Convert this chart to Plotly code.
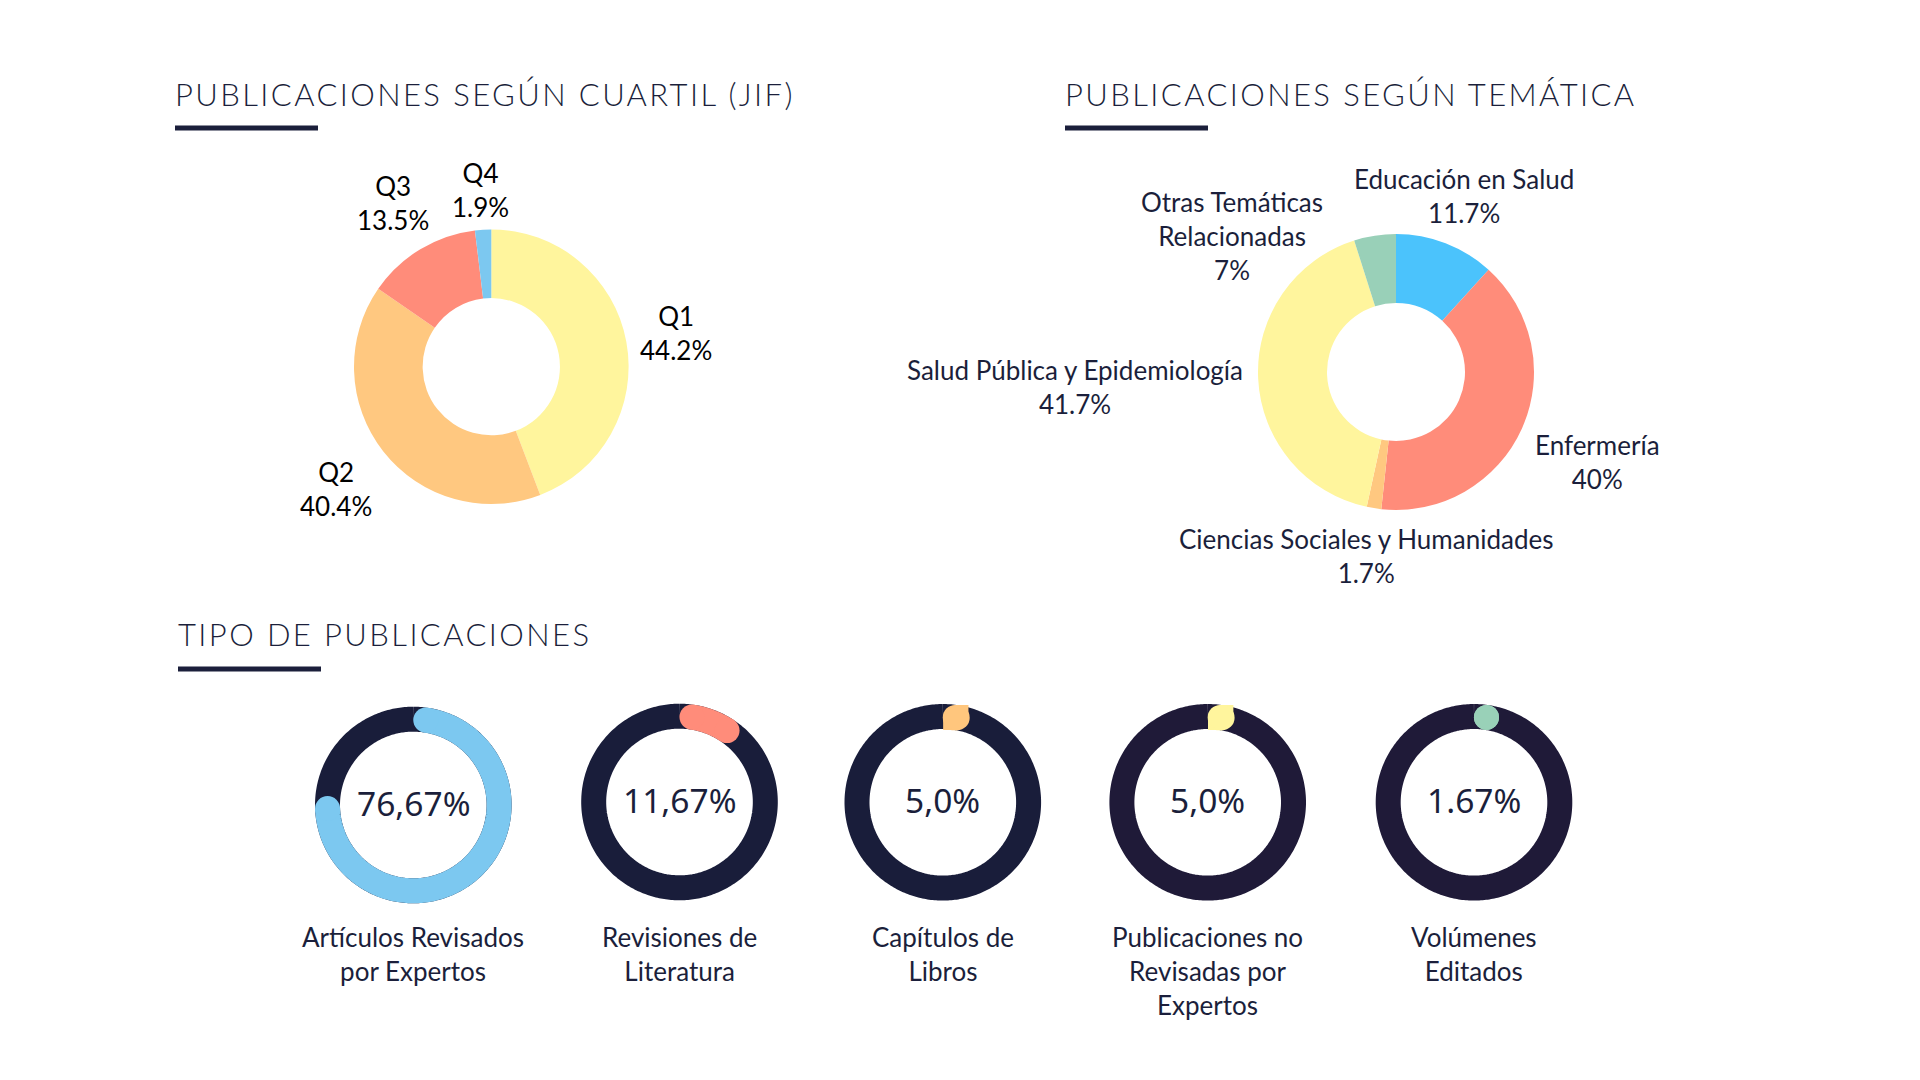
import math
import numpy as np
import plotly.graph_objects as go

W, H = 1920, 1080

# ---------------- DATA ----------------
cuartil_labels = ["Q1", "Q2", "Q3", "Q4"]
cuartil_values = [44.2, 40.4, 13.5, 1.9]
cuartil_colors = ["#FFF59D", "#FFC880", "#FF8C7A", "#7CC8F0"]

tema_labels = ["Educación en Salud", "Enfermería", "Ciencias Sociales y Humanidades",
               "Salud Pública y Epidemiología", "Otras Temáticas<br>Relacionadas"]
tema_values = [11.7, 40.0, 1.7, 41.7, 4.9]
tema_text = ["11.7%", "40%", "1.7%", "41.7%", "7%"]
tema_colors = ["#4BC3FC", "#FF8C7A", "#FFC880", "#FFF59D", "#99D0B8"]

tipo_labels = ["Artículos Revisados<br>por Expertos", "Revisiones de<br>Literatura",
               "Capítulos de<br>Libros", "Publicaciones no<br>Revisadas por<br>Expertos",
               "Volúmenes<br>Editados"]
tipo_values = [76.67, 11.67, 5.0, 5.0, 1.67]
tipo_text = ["76,67%", "11,67%", "5,0%", "5,0%", "1.67%"]
tipo_colors = ["#7CC8F0", "#FF8C7A", "#FFC67D", "#FFF59D", "#99D1B8"]
tipo_ring = ["#191D3A", "#191D3A", "#191D3A", "#1F1A38", "#1F1A38"]

titles = ["PUBLICACIONES SEGÚN CUARTIL (JIF)", "PUBLICACIONES SEGÚN TEMÁTICA",
          "TIPO DE PUBLICACIONES"]

# ---------------- LAYOUT ----------------
NAVY = "#1B1F3B"
LABEL_FONT = "Lato"
LABEL_SIZE = 26
LABEL_GAP = 14
PIE1 = (491.3, 366.7, 137.3)   # centre x, centre y, radius (px)
PIE2 = (1396.0, 372.0, 138.0)
# label nudges (px) for overlap avoidance of very small slices
pie1_label_nudge = [(0, 0), (0, 0), (0, 0), (0, 8)]
pie2_label_nudge = [(0, 0), (0, 0), (0, 0), (0, 0), (-133, 65)]


def px_x(x):
    return x / W


def px_y(y):
    return 1 - y / H


def dom(cx, cy, r):
    return dict(x=[(cx - r) / W, (cx + r) / W], y=[1 - (cy + r) / H, 1 - (cy - r) / H])


def char_w(c):
    if c.isdigit():
        return 0.58
    if c == "%":
        return 0.80
    if c in ".,":
        return 0.24
    if c == " ":
        return 0.25
    if c in "ilíjI":
        return 0.24
    if c in "frt":
        return 0.35
    if c == "m":
        return 0.84
    if c.isupper():
        return 0.64
    return 0.52


def text_box(text, size):
    lines = text.split("<br>")
    w = max(sum(char_w(c) for c in ln) for ln in lines) * size
    h = len(lines) * 1.3 * size
    return w, h


def pie_label_annotations(texts, values, geom, color, nudges):
    cx, cy, R = geom
    total = float(sum(values))
    cum = 0.0
    out = []
    for i, (t, v) in enumerate(zip(texts, values)):
        mid = (cum + v / 2) / total * 360.0
        cum += v
        a = math.radians(mid)
        dx, dy = math.sin(a), -math.cos(a)
        w, h = text_box(t, LABEL_SIZE)
        tx = (w / 2) / abs(dx) if abs(dx) > 1e-6 else float("inf")
        ty = (h / 2) / abs(dy) if abs(dy) > 1e-6 else float("inf")
        d = R + LABEL_GAP + min(tx, ty)
        nx, ny = nudges[i]
        out.append(dict(
            text=t, x=px_x(cx + dx * d + nx), y=px_y(cy + dy * d + ny),
            xref="paper", yref="paper",
            xanchor="center", yanchor="middle", showarrow=False,
            font=dict(family=LABEL_FONT, size=LABEL_SIZE, color=color),
        ))
    return out


fig = go.Figure()

# Pie 1: cuartil
fig.add_trace(go.Pie(
    labels=cuartil_labels, values=cuartil_values, hole=0.5, sort=False,
    direction="clockwise", rotation=0,
    marker=dict(colors=cuartil_colors, line=dict(width=0)),
    textinfo="none", domain=dom(*PIE1), showlegend=False, hoverinfo="label+percent",
))

# Pie 2: temática
fig.add_trace(go.Pie(
    labels=tema_labels, values=tema_values, text=tema_text, hole=0.5, sort=False,
    direction="clockwise", rotation=0,
    marker=dict(colors=tema_colors, line=dict(width=0)),
    textinfo="none", domain=dom(*PIE2), showlegend=False, hoverinfo="label+text",
))

# Small ring gauges
centers_x = [413.3, 679.5, 942.8, 1207.7, 1474.0]
centers_y = [805.0, 802.0, 802.3, 802.3, 802.3]
S = 110.0          # half size of polar domain (px) == radial range max
R_OUT = 98.3
R_IN = 73.3
R_MID = (R_OUT + R_IN) / 2
RING_W = R_OUT - R_IN
cap_deg = np.degrees((RING_W / 2) / R_MID)

for i, (val, col, ring) in enumerate(zip(tipo_values, tipo_colors, tipo_ring)):
    pid = "polar" if i == 0 else f"polar{i + 1}"
    cx, cy = centers_x[i], centers_y[i]
    full = np.linspace(0, 360, 361)
    fig.add_trace(go.Scatterpolar(
        r=np.full_like(full, R_MID), theta=full, mode="lines",
        line=dict(color=ring, width=RING_W), subplot=pid, showlegend=False,
        hoverinfo="skip", cliponaxis=False,
    ))
    a0 = cap_deg
    a1 = max(cap_deg, val * 3.6 - cap_deg)
    th = np.linspace(a0, a1, 200)
    fig.add_trace(go.Scatterpolar(
        r=np.full_like(th, R_MID), theta=th, mode="lines",
        line=dict(color=col, width=RING_W), subplot=pid, showlegend=False,
        hoverinfo="skip", cliponaxis=False,
    ))
    fig.add_trace(go.Scatterpolar(
        r=[R_MID, R_MID], theta=[a0, a1], mode="markers",
        marker=dict(color=col, size=RING_W, line=dict(width=0)), subplot=pid,
        showlegend=False, hoverinfo="skip", cliponaxis=False,
    ))
    fig.update_layout(**{pid: dict(
        domain=dom(cx, cy, S), bgcolor="rgba(0,0,0,0)",
        radialaxis=dict(range=[0, S], visible=False),
        angularaxis=dict(visible=False, rotation=90, direction="clockwise"),
    )})

annotations = []
# pie labels
total1 = sum(cuartil_values)
pie1_texts = [f"{lab}<br>{v / total1 * 100:.3g}%" for lab, v in zip(cuartil_labels, cuartil_values)]
annotations += pie_label_annotations(pie1_texts, cuartil_values, PIE1, "#000000", pie1_label_nudge)
pie2_texts = [f"{lab}<br>{t}" for lab, t in zip(tema_labels, tema_text)]
annotations += pie_label_annotations(pie2_texts, tema_values, PIE2, NAVY, pie2_label_nudge)

# titles
title_pos = [(172.5, 94), (1062.5, 94), (175.5, 634)]
for t, (x, y) in zip(titles, title_pos):
    annotations.append(dict(
        text=f'<span style="letter-spacing:2.4px">{t}</span>', x=px_x(x), y=px_y(y),
        xref="paper", yref="paper",
        xanchor="left", yanchor="middle", showarrow=False,
        font=dict(family="Lato", size=31, color=NAVY, weight=300),
    ))
# gauge texts
for i in range(len(tipo_values)):
    annotations.append(dict(
        text=tipo_text[i], x=px_x(centers_x[i]), y=px_y(centers_y[i] - 2),
        xref="paper", yref="paper", xanchor="center", yanchor="middle",
        showarrow=False, font=dict(family="Noto Sans", size=33.5, color=NAVY),
    ))
    annotations.append(dict(
        text=tipo_labels[i], x=px_x(centers_x[i]), y=px_y(919),
        xref="paper", yref="paper", xanchor="center", yanchor="top",
        showarrow=False, font=dict(family=LABEL_FONT, size=LABEL_SIZE, color=NAVY),
    ))

shapes = []
underline = [(175, 318, 128), (1065, 1208, 128), (178, 321, 669)]
for x0, x1, y in underline:
    shapes.append(dict(
        type="line", xref="paper", yref="paper",
        x0=px_x(x0), x1=px_x(x1), y0=px_y(y), y1=px_y(y),
        line=dict(color=NAVY, width=5),
    ))

fig.update_layout(
    width=W, height=H, margin=dict(l=0, r=0, t=0, b=0),
    paper_bgcolor="white", plot_bgcolor="white",
    annotations=annotations, shapes=shapes, showlegend=False,
)

fig.write_html(
    "out.html",
    config={"displayModeBar": False},
    post_script="document.body.style.margin='0';document.body.style.overflow='hidden';",
)
